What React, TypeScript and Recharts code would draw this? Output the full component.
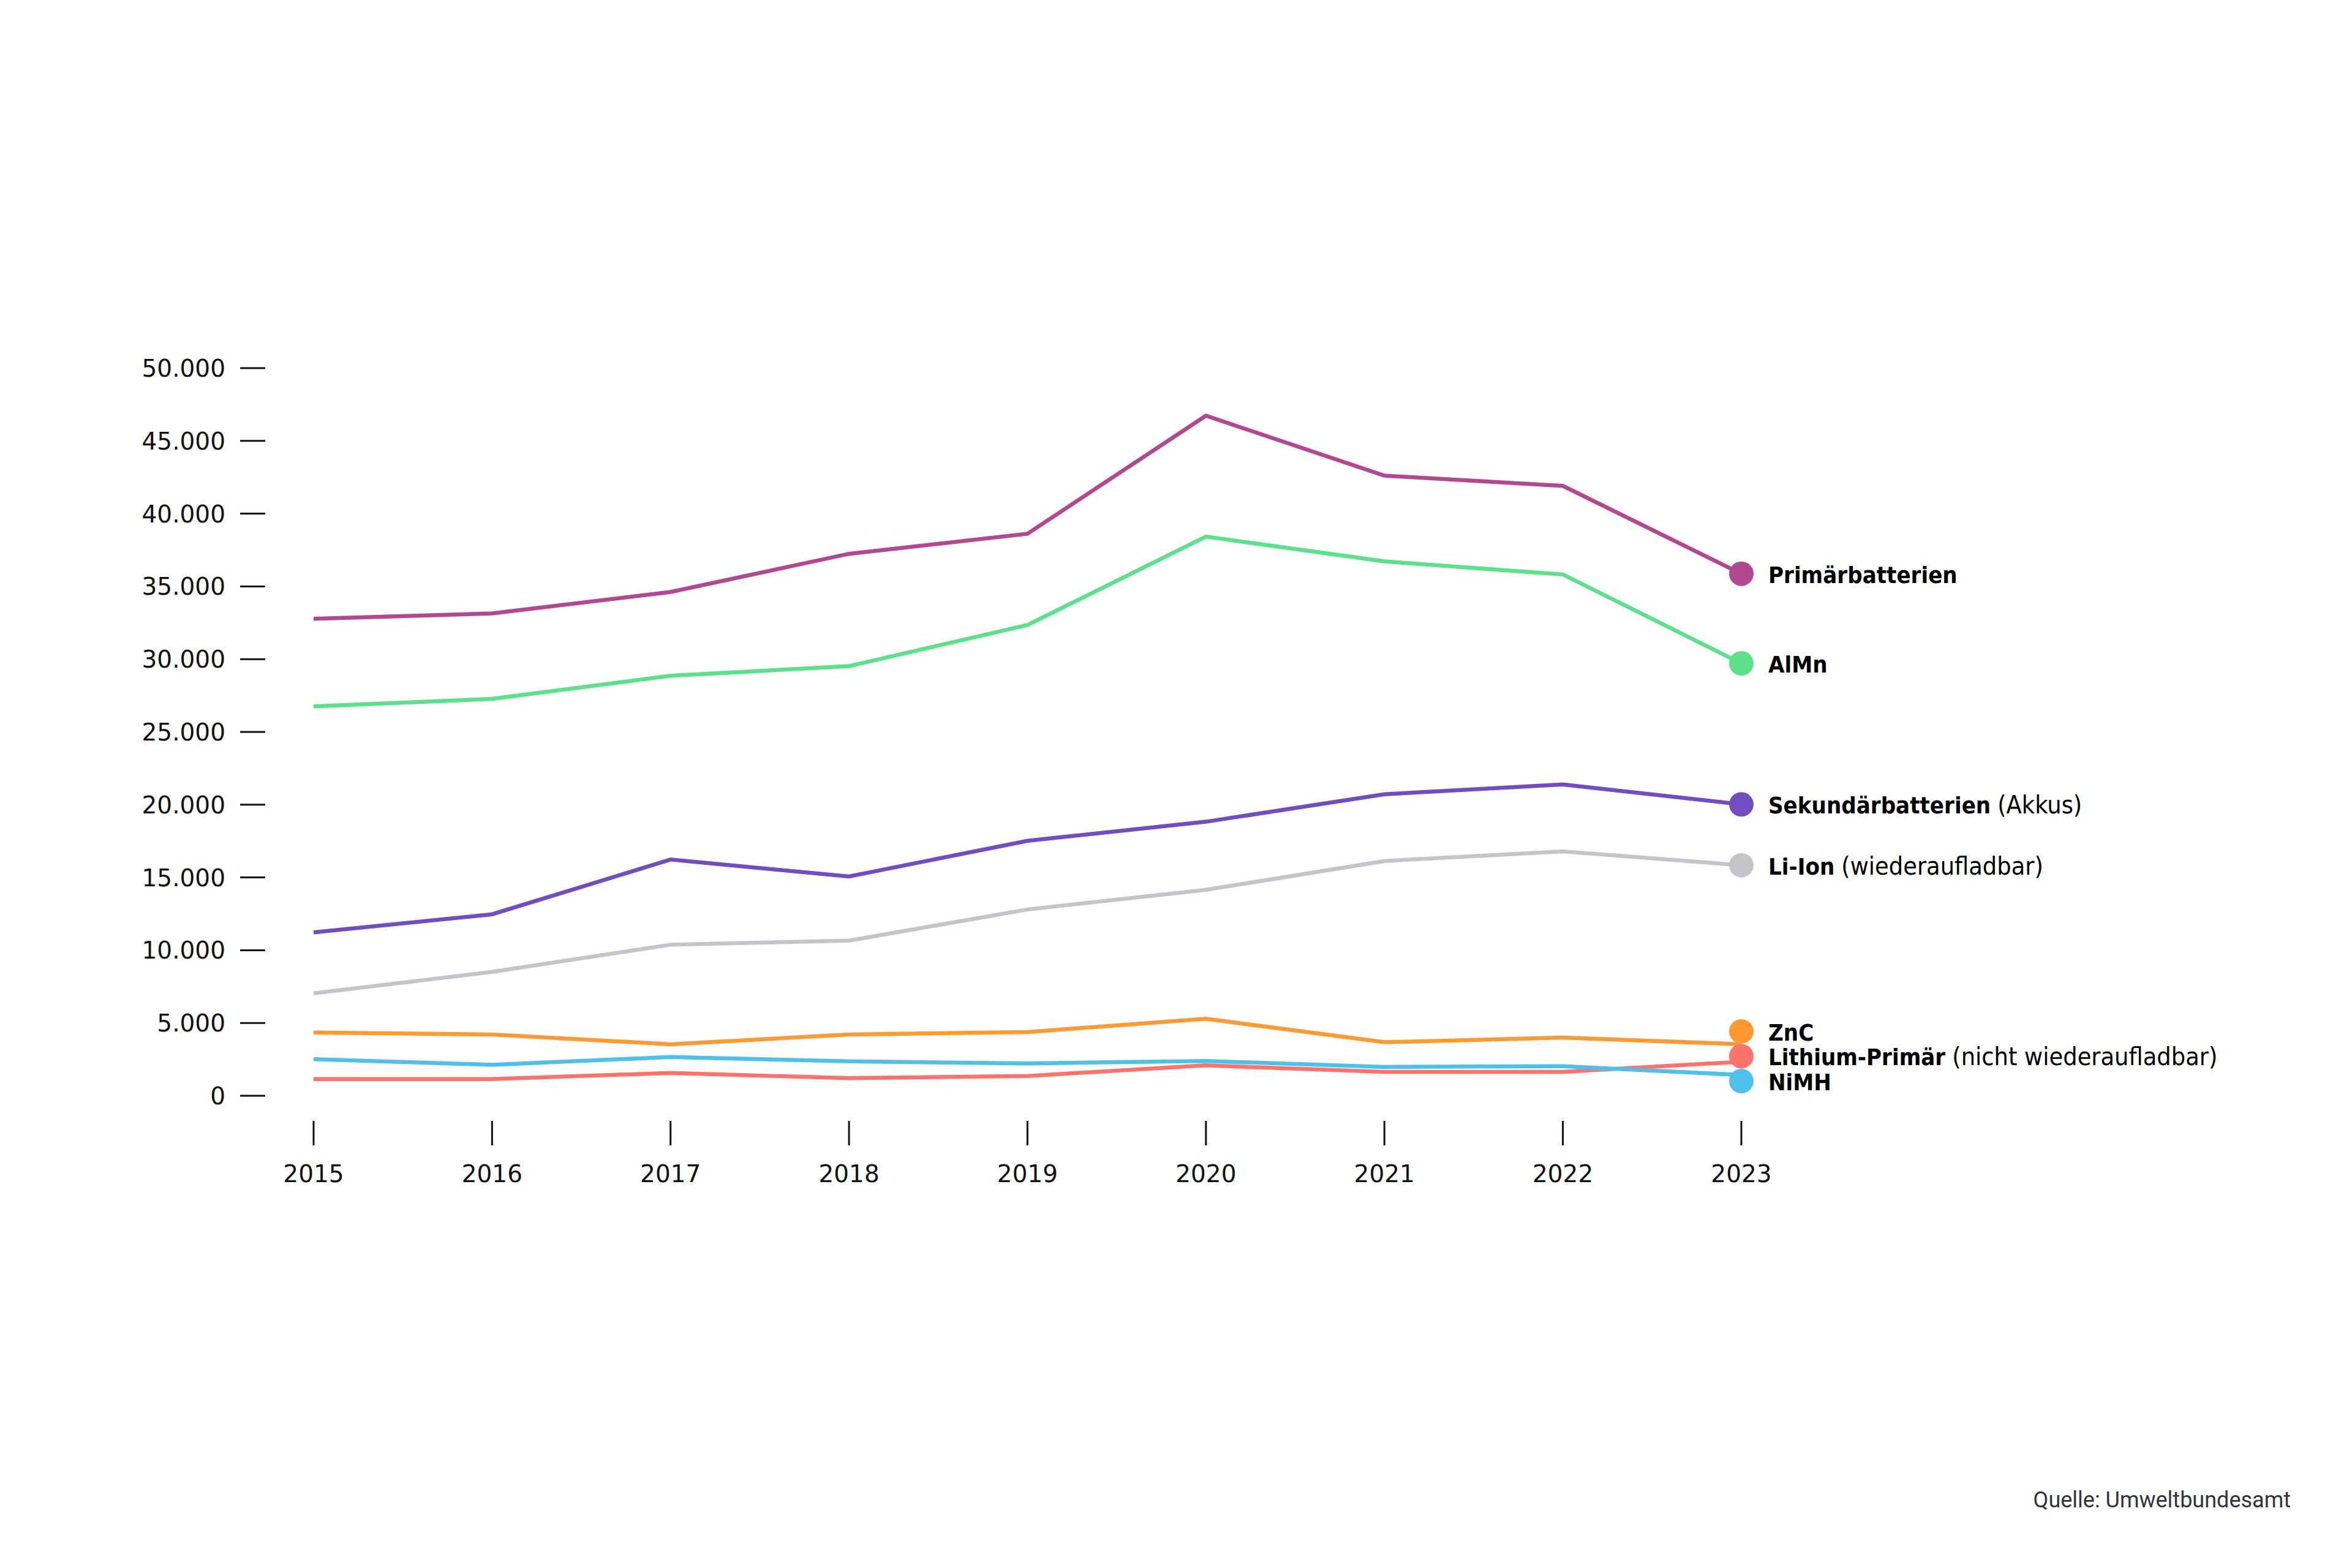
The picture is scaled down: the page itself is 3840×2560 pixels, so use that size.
import React from 'react';
import { LineChart, Line, XAxis, YAxis } from 'recharts';

const years = ['2015', '2016', '2017', '2018', '2019', '2020', '2021', '2022', '2023'];
const primaer = [32780, 33140, 34620, 37240, 38620, 46730, 42610, 41910, 35870];
const almn = [26760, 27270, 28860, 29520, 32350, 38420, 36720, 35820, 29710];
const sekundaer = [11230, 12470, 16230, 15070, 17520, 18830, 20720, 21390, 20020];
const liion = [7040, 8510, 10380, 10660, 12800, 14150, 16130, 16790, 15840];
const znc = [4350, 4210, 3540, 4210, 4380, 5290, 3680, 4000, 3540];
const lithium = [1150, 1150, 1570, 1210, 1360, 2090, 1640, 1640, 2340];
const nimh = [2510, 2130, 2660, 2370, 2220, 2390, 1980, 2030, 1430];

const seriesKeys = ['primaer', 'almn', 'sekundaer', 'liion', 'znc', 'lithium', 'nimh'];
const seriesLabels = ['Primärbatterien', 'AlMn', 'Sekundärbatterien', 'Li-Ion', 'ZnC', 'Lithium-Primär', 'NiMH'];
const seriesNotes = ['', '', '(Akkus)', '(wiederaufladbar)', '', '(nicht wiederaufladbar)', ''];
const yTicks = [0, 5000, 10000, 15000, 20000, 25000, 30000, 35000, 40000, 45000, 50000];
const sourceText = 'Quelle: Umweltbundesamt';

// styling
const seriesColors = ['#B2488F', '#5AE18A', '#714DC1', '#C4C4CB', '#FF9A32', '#FF736C', '#4FBFEB'];
const endDotShift = [0, 0, 0, 0, -21, -9, 10];

const W = 3840;
const H = 2560;
const PLOT_LEFT = 512;
const PLOT_RIGHT = 2843;
const PLOT_TOP = 601;
const PLOT_BOTTOM = 1789;

const AXIS_FONT = '"DejaVu Sans", sans-serif';
const LABEL_FONT = '"Liberation Sans Narrow", "DejaVu Sans Condensed", "Roboto", sans-serif';

const seriesValues = [primaer, almn, sekundaer, liion, znc, lithium, nimh];
const data = years.map((year, i) => {
  const row: Record<string, any> = { year };
  seriesKeys.forEach((k, s) => {
    row[k] = seriesValues[s][i];
  });
  return row;
});

const fmt = (v: number) => String(v).replace(/\B(?=(\d{3})+(?!\d))/g, '.');

const YTick = (props: any) => {
  const { y, payload } = props;
  return (
    <g>
      <text x={368} y={y + 14} textAnchor="end" fontFamily={AXIS_FONT} fontSize={39} fill="#111">
        {fmt(payload.value)}
      </text>
      <line x1={392} x2={433} y1={y} y2={y} stroke="#111" strokeWidth={3} />
    </g>
  );
};

const XTick = (props: any) => {
  const { x, payload } = props;
  return (
    <g>
      <line x1={x} x2={x} y1={1830} y2={1870} stroke="#111" strokeWidth={3} />
      <text x={x} y={1930} textAnchor="middle" fontFamily={AXIS_FONT} fontSize={39} fill="#111">
        {payload.value}
      </text>
    </g>
  );
};

const makeEndDot = (s: number) => (props: any) => {
  const { cx, cy, index } = props;
  if (index !== years.length - 1 || cx == null || cy == null) {
    return <g key={`dot-${s}-${index}`} />;
  }
  const y = cy + endDotShift[s];
  return (
    <g key={`dot-${s}-${index}`}>
      <circle cx={cx} cy={y} r={20} fill={seriesColors[s]} />
      <text x={cx + 44} y={y + 15} fontFamily={LABEL_FONT} fill="#000">
        <tspan fontWeight={700} fontSize={38}>{seriesLabels[s]}</tspan>
        {seriesNotes[s] ? (
          <tspan fontWeight={400} fontSize={41} dx={11}>
            {seriesNotes[s]}
          </tspan>
        ) : null}
      </text>
    </g>
  );
};

export default function App() {
  return (
    <div style={{ position: 'absolute', left: 0, top: 0, width: W, height: H, background: '#fff' }}>
      <LineChart
        width={W}
        height={H}
        data={data}
        margin={{ top: PLOT_TOP, right: W - PLOT_RIGHT, bottom: 0, left: 0 }}
      >
        <XAxis
          dataKey="year"
          height={H - PLOT_BOTTOM}
          axisLine={false}
          tickLine={false}
          tick={<XTick />}
          interval={0}
        />
        <YAxis
          width={PLOT_LEFT}
          domain={[0, 50000]}
          ticks={yTicks}
          axisLine={false}
          tickLine={false}
          tick={<YTick />}
          interval={0}
        />
        {seriesKeys.map((k, s) => (
          <Line
            key={k}
            dataKey={k}
            type="linear"
            stroke={seriesColors[s]}
            strokeWidth={6.5}
            dot={makeEndDot(s)}
            activeDot={false}
            isAnimationActive={false}
          />
        ))}
      </LineChart>
      <svg width={W} height={H} style={{ position: 'absolute', left: 0, top: 0, pointerEvents: 'none' }}>
        <text x={3740} y={2461} textAnchor="end" fontFamily='"Roboto", sans-serif' fontSize={36} fill="#33333d">
          {sourceText}
        </text>
      </svg>
    </div>
  );
}
